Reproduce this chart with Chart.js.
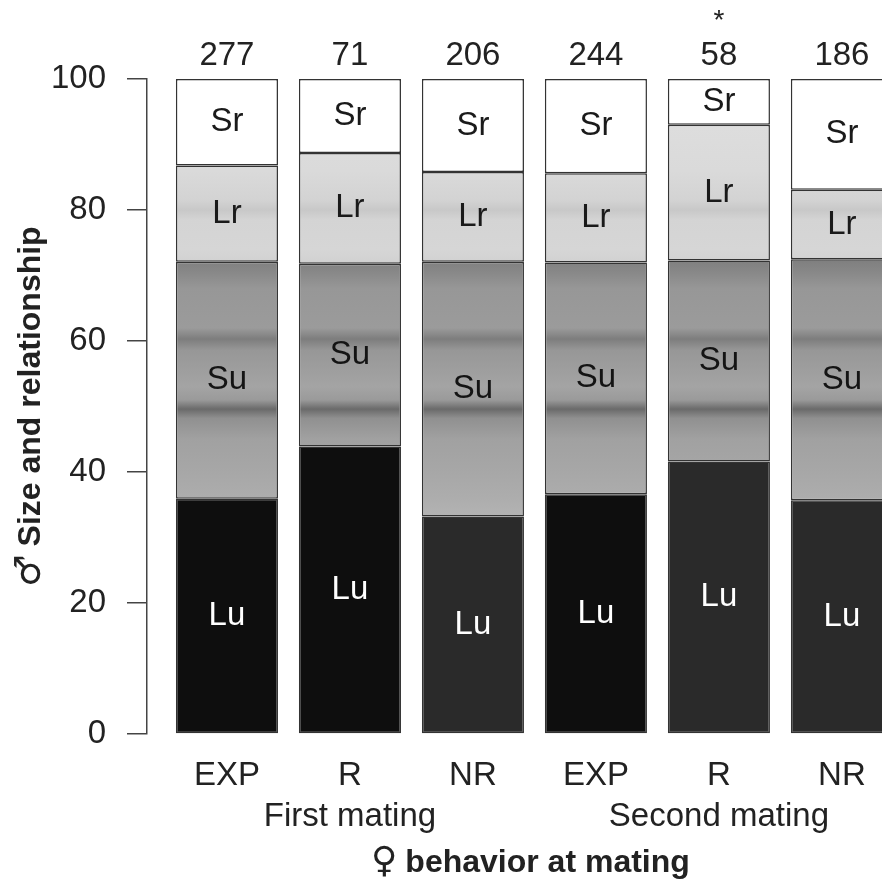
<!DOCTYPE html>
<html>
<head>
<meta charset="utf-8">
<title>Size and relationship by female behavior at mating</title>
<script src="https://cdn.jsdelivr.net/npm/chart.js@4.4.1/dist/chart.umd.min.js"></script>
<style>
    html, body { margin: 0; padding: 0; background: #fff; overflow: hidden; }
    #wrap { width: 882px; height: 882px; position: relative; }
</style>
</head>
<body>
<div id="wrap"><canvas id="matingChart"></canvas></div>
<script>
        const categories = ['EXP', 'R', 'NR', 'EXP', 'R', 'NR'];
        const groupNames = ['First mating', 'Second mating'];
        const groupCenters = [1, 4];
        const sampleSizes = [277, 71, 206, 244, 58, 186];
        const significant = [false, false, false, false, true, false];

        // percentage of males in each class, bottom to top
        const luValues = [35.9, 43.9, 33.2, 36.6, 41.6, 35.7];
        const suValues = [36.2, 27.9, 38.9, 35.4, 30.7, 36.8];
        const lrValues = [14.7, 16.9, 13.7, 13.6, 20.7, 10.6];
        const srValues = [13.2, 11.3, 14.2, 14.4, 7.0, 16.9];
        const yTicks = [0, 20, 40, 60, 80, 100];

        const FONT = '"Liberation Sans", Arial, sans-serif';
        const SYMBOL_FONT = '"DejaVu Sans", sans-serif';
        const luColors = ['#0e0e0e', '#0e0e0e', '#2a2a2a', '#0e0e0e', '#2a2a2a', '#2a2a2a'];

        function toPoints(values) {
            return values.map((v, i) => ({ x: i, y: v }));
        }

        // vertical shading with the darker bands, built in value space
        const gradientCache = {};
        function bandGradient(name, stops) {
            return (context) => {
                const chart = context.chart;
                const area = chart.chartArea;
                if (!area) return stops[0][1];
                const key = name + area.top + area.bottom;
                if (gradientCache[key]) return gradientCache[key];
                const y = chart.scales.y;
                const top = y.getPixelForValue(stops[0][0]);
                const bottom = y.getPixelForValue(stops[stops.length - 1][0]);
                const g = chart.ctx.createLinearGradient(0, top, 0, bottom);
                stops.forEach(([v, color]) => {
                    g.addColorStop((y.getPixelForValue(v) - top) / (bottom - top), color);
                });
                gradientCache[key] = g;
                return g;
            };
        }

        const suShade = bandGradient('su', [
            [73, '#7c7c7c'], [70.5, '#888888'], [68, '#979797'], [62, '#9b9b9b'],
            [60.3, '#7d7d7d'], [58.6, '#979797'], [53, '#a4a4a4'], [51, '#9a9a9a'],
            [49.6, '#6a6a6a'], [48.2, '#909090'], [45, '#a1a1a1'], [40, '#a7a7a7'],
            [36, '#adadad'], [32, '#b6b6b6']
        ]);
        const lrShade = bandGradient('lr', [
            [95, '#dedede'], [86, '#dadada'], [81.5, '#d3d3d3'], [80, '#c8c8c8'],
            [78.5, '#d4d4d4'], [74, '#d6d6d6'], [71, '#cfcfcf']
        ]);

        // draws a sex symbol followed by a label, centred on (x, y)
        function symbolText(c, symbol, text, x, y, size) {
            c.font = 'bold ' + size + 'px ' + FONT;
            const tw = c.measureText(text).width;
            c.font = (size + 4) + 'px ' + SYMBOL_FONT;
            const sw = c.measureText(symbol).width;
            const gap = 8;
            const start = x - (sw + gap + tw) / 2;
            c.textAlign = 'left';
            c.fillText(symbol, start, y);
            c.font = 'bold ' + size + 'px ' + FONT;
            c.fillText(text, start + sw + gap, y);
            c.textAlign = 'center';
        }

        const barLabels = {
            id: 'barLabels',
            afterDatasetsDraw(chart) {
                const c = chart.ctx;
                const xs = chart.scales.x;
                const area = chart.chartArea;
                c.save();
                c.textAlign = 'center';
                c.textBaseline = 'middle';
                c.font = '33px ' + FONT;
                chart.data.datasets.forEach((ds, di) => {
                    chart.getDatasetMeta(di).data.forEach((bar) => {
                        const p = bar.getProps(['x', 'y', 'base'], true);
                        c.fillStyle = ds.textColor;
                        c.fillText(ds.label, p.x, (p.y + p.base) / 2);
                    });
                });

                // sample sizes above the bars
                c.fillStyle = '#222';
                c.textBaseline = 'alphabetic';
                sampleSizes.forEach((n, i) => {
                    const x = xs.getPixelForValue(i);
                    c.font = '33px ' + FONT;
                    c.fillText(String(n), x, area.top - 14);
                    if (significant[i]) {
                        c.font = '28px ' + FONT;
                        c.fillText('*', x, area.top - 50);
                    }
                });

                // mating groups and axis titles
                c.font = '33px ' + FONT;
                groupNames.forEach((g, i) => {
                    c.fillText(g, xs.getPixelForValue(groupCenters[i]), 826);
                });
                symbolText(c, '\u2640', 'behavior at mating', xs.getPixelForValue(2.5) - 4, 872, 32);

                c.translate(40, (area.top + area.bottom) / 2);
                c.rotate(-Math.PI / 2);
                symbolText(c, '\u2642', 'Size and relationship', 0, 0, 32);
                c.restore();
            }
        };

        const ctx = document.getElementById('matingChart').getContext('2d');
        new Chart(ctx, {
            type: 'bar',
            data: {
                datasets: [
                    { label: 'Lu', data: toPoints(luValues), backgroundColor: luColors, textColor: '#ffffff' },
                    { label: 'Su', data: toPoints(suValues), backgroundColor: suShade, textColor: '#141414' },
                    { label: 'Lr', data: toPoints(lrValues), backgroundColor: lrShade, textColor: '#1a1a1a' },
                    { label: 'Sr', data: toPoints(srValues), backgroundColor: '#ffffff', textColor: '#1a1a1a' }
                ]
            },
            options: {
                responsive: true,
                maintainAspectRatio: false,
                animation: false,
                layout: { padding: { top: 79, left: 0, right: 0, bottom: 0 } },
                datasets: {
                    bar: {
                        barPercentage: 0.83,
                        categoryPercentage: 1,
                        borderColor: '#333333',
                        borderWidth: 1.5,
                        borderSkipped: false
                    }
                },
                plugins: {
                    legend: { display: false },
                    tooltip: { enabled: false }
                },
                scales: {
                    x: {
                        type: 'linear',
                        offset: false,
                        stacked: true,
                        min: -0.65,
                        max: 5.326,
                        afterBuildTicks: (axis) => {
                            axis.ticks = categories.map((c, i) => ({ value: i }));
                        },
                        afterFit: (axis) => { axis.height = 148; },
                        grid: { display: false, offset: false },
                        border: { display: false },
                        ticks: {
                            autoSkip: false,
                            maxRotation: 0,
                            padding: 14,
                            color: '#222',
                            font: { family: FONT, size: 33 },
                            callback: (v) => categories[v]
                        }
                    },
                    y: {
                        stacked: true,
                        min: 0,
                        max: 100,
                        afterBuildTicks: (axis) => {
                            axis.ticks = yTicks.map((v) => ({ value: v }));
                        },
                        afterFit: (axis) => { axis.width = 147; },
                        grid: {
                            drawOnChartArea: false,
                            drawTicks: true,
                            tickLength: 20,
                            color: '#444',
                            lineWidth: 1.5
                        },
                        border: { display: true, color: '#444', width: 1.5 },
                        ticks: {
                            padding: 21,
                            color: '#222',
                            font: { family: FONT, size: 33 }
                        }
                    }
                }
            },
            plugins: [barLabels]
        });
</script>
</body>
</html>
